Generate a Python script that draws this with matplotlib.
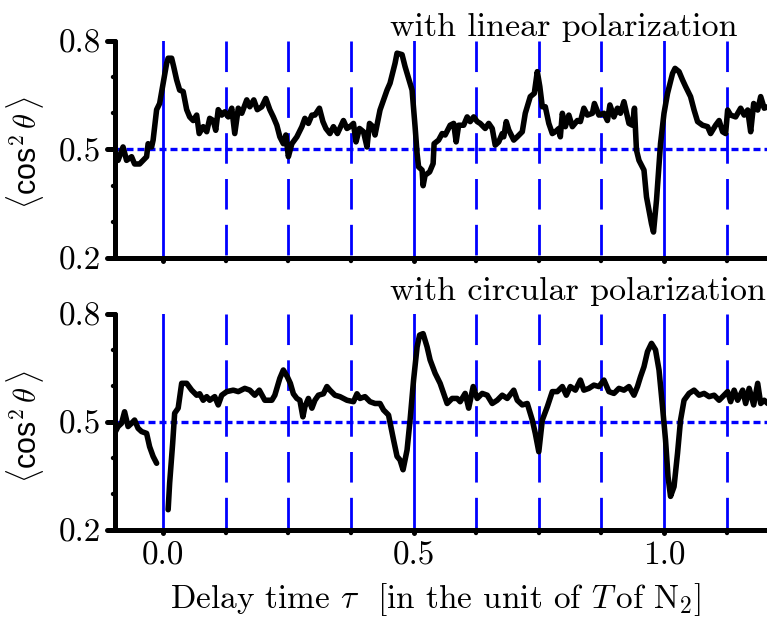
import matplotlib
matplotlib.use("Agg")
import matplotlib.pyplot as plt
from matplotlib.markers import MarkerStyle

plt.rcParams["mathtext.fontset"] = "cm"
plt.rcParams["axes.formatter.use_mathtext"] = True

# linear polarization trace
lin_t = [-0.097, -0.090, -0.080, -0.073, -0.063, -0.057, -0.047, -0.040, -0.033, -0.030,
         -0.023, -0.020, -0.013, -0.007, 0.000, 0.007, 0.010, 0.017, 0.021, 0.027,
         0.033, 0.040, 0.047, 0.053, 0.060, 0.067, 0.072, 0.080, 0.087, 0.093,
         0.100, 0.105, 0.110, 0.117, 0.123, 0.130, 0.137, 0.143, 0.150, 0.157,
         0.167, 0.173, 0.181, 0.188, 0.197, 0.205, 0.213, 0.220, 0.227, 0.233,
         0.240, 0.245, 0.250, 0.257, 0.267, 0.277, 0.283, 0.290, 0.297, 0.303,
         0.312, 0.319, 0.325, 0.333, 0.340, 0.348, 0.360, 0.367, 0.373, 0.380,
         0.385, 0.392, 0.400, 0.407, 0.412, 0.419, 0.423,
         0.433, 0.447, 0.453, 0.463, 0.467, 0.477, 0.483, 0.497, 0.503, 0.507,
         0.510, 0.517, 0.519, 0.523, 0.532, 0.539, 0.541, 0.550, 0.557, 0.563,
         0.573, 0.580, 0.585, 0.590, 0.600, 0.607, 0.613, 0.620, 0.627, 0.633,
         0.643, 0.650, 0.657, 0.663, 0.670, 0.677, 0.680, 0.685, 0.690, 0.700,
         0.707, 0.717, 0.723, 0.733, 0.741, 0.747, 0.752, 0.757, 0.763, 0.770,
         0.777, 0.783, 0.790, 0.793, 0.797, 0.803, 0.810, 0.817, 0.827, 0.833,
         0.840, 0.847, 0.857, 0.861, 0.870, 0.880, 0.887, 0.892, 0.900, 0.907,
         0.913, 0.920, 0.930, 0.937, 0.941, 0.945, 0.950, 0.960, 0.965, 0.970,
         0.975, 0.979, 0.985, 0.993, 1.000, 1.007, 1.017, 1.022, 1.030, 1.037,
         1.043, 1.053, 1.060, 1.067, 1.077, 1.087, 1.093, 1.103, 1.110, 1.117,
         1.123, 1.127, 1.133, 1.143, 1.153, 1.160, 1.167, 1.173, 1.179, 1.187,
         1.193, 1.200, 1.207]
lin_cos2 = [0.48, 0.47, 0.507, 0.47, 0.48, 0.46, 0.46, 0.47, 0.48, 0.516,
            0.507, 0.526, 0.61, 0.627, 0.683, 0.738, 0.752, 0.752, 0.729, 0.692,
            0.664, 0.66, 0.61, 0.59, 0.58, 0.595, 0.544, 0.563, 0.549, 0.586,
            0.58, 0.553, 0.61, 0.595, 0.604, 0.59, 0.614, 0.544, 0.614, 0.60,
            0.637, 0.618, 0.637, 0.61, 0.618, 0.641, 0.61, 0.59, 0.567, 0.535,
            0.516, 0.54, 0.48, 0.516, 0.535, 0.563, 0.586, 0.572, 0.595, 0.595,
            0.614, 0.577, 0.558, 0.544, 0.563, 0.544, 0.58, 0.558, 0.563, 0.572,
            0.521, 0.558, 0.549, 0.507, 0.572, 0.563, 0.54,
            0.609, 0.664, 0.683, 0.738, 0.766, 0.762, 0.729, 0.664, 0.563, 0.489,
            0.452, 0.443, 0.40, 0.429, 0.438, 0.461, 0.516, 0.526, 0.544, 0.54,
            0.567, 0.572, 0.521, 0.567, 0.567, 0.59, 0.577, 0.59, 0.577, 0.572,
            0.558, 0.572, 0.558, 0.512, 0.521, 0.544, 0.535, 0.577, 0.554, 0.526,
            0.535, 0.549, 0.60, 0.646, 0.655, 0.715, 0.674, 0.618, 0.618, 0.572,
            0.544, 0.549, 0.558, 0.535, 0.60, 0.563, 0.595, 0.563, 0.58, 0.577,
            0.614, 0.595, 0.60, 0.627, 0.595, 0.60, 0.58, 0.623, 0.59, 0.614,
            0.60, 0.632, 0.572, 0.567, 0.614, 0.498, 0.47, 0.443, 0.369, 0.332,
            0.295, 0.272, 0.36, 0.516, 0.60, 0.655, 0.71, 0.724, 0.715, 0.692,
            0.674, 0.646, 0.609, 0.577, 0.567, 0.563, 0.544, 0.567, 0.58, 0.549,
            0.544, 0.609, 0.595, 0.59, 0.614, 0.595, 0.609, 0.549, 0.627, 0.609,
            0.646, 0.614, 0.618]

# circular polarization trace (two pieces, gap near tau = 0)
circ_t1 = [-0.097, -0.090, -0.083, -0.077, -0.070, -0.063, -0.057, -0.050, -0.043, -0.033,
           -0.027, -0.020, -0.013]
circ_cos2_1 = [0.468, 0.487, 0.496, 0.528, 0.487, 0.496, 0.505, 0.482, 0.473, 0.468,
               0.431, 0.404, 0.385]
circ_t2 = [0.010, 0.013, 0.019, 0.023, 0.030, 0.037, 0.047, 0.057, 0.067, 0.073,
           0.080, 0.087, 0.093, 0.103, 0.110, 0.117, 0.127, 0.140, 0.150, 0.163,
           0.173, 0.183, 0.192, 0.203, 0.217, 0.223, 0.233, 0.240, 0.248, 0.254,
           0.260, 0.267, 0.273, 0.279, 0.283, 0.290, 0.297, 0.303, 0.310, 0.320,
           0.327, 0.333, 0.343, 0.353, 0.367, 0.380, 0.387, 0.393, 0.403, 0.413,
           0.423,
           0.433, 0.440, 0.450, 0.460, 0.467, 0.473, 0.479, 0.487, 0.493, 0.500,
           0.507, 0.512, 0.519, 0.527, 0.533, 0.543, 0.553, 0.560, 0.567, 0.577,
           0.587, 0.593, 0.603, 0.610, 0.619, 0.627, 0.637, 0.647, 0.657, 0.667,
           0.677, 0.687, 0.700, 0.707, 0.717, 0.727, 0.737, 0.743, 0.750, 0.757,
           0.767, 0.777, 0.787, 0.797, 0.805, 0.813, 0.823, 0.833, 0.840, 0.850,
           0.860, 0.870, 0.880, 0.890, 0.900, 0.910, 0.920, 0.930, 0.940, 0.947,
           0.953, 0.960, 0.967, 0.975, 0.983, 0.990, 0.997, 1.003, 1.008, 1.013,
           1.020, 1.027, 1.033, 1.040, 1.050, 1.060, 1.070, 1.080, 1.090, 1.100,
           1.110, 1.117, 1.127, 1.133, 1.140, 1.147, 1.157, 1.163, 1.170, 1.179,
           1.187, 1.193, 1.200, 1.207]
circ_cos2_2 = [0.256, 0.33, 0.44, 0.524, 0.538, 0.607, 0.607, 0.588, 0.574, 0.578,
               0.56, 0.57, 0.56, 0.57, 0.547, 0.574, 0.584, 0.588, 0.584, 0.593,
               0.588, 0.574, 0.588, 0.56, 0.56, 0.574, 0.621, 0.644, 0.625, 0.607,
               0.578, 0.565, 0.56, 0.514, 0.542, 0.565, 0.538, 0.56, 0.574, 0.578,
               0.598, 0.588, 0.574, 0.57, 0.56, 0.556, 0.578, 0.565, 0.57, 0.556,
               0.551,
               0.551, 0.533, 0.519, 0.45, 0.404, 0.394, 0.367, 0.422, 0.505, 0.616,
               0.708, 0.741, 0.745, 0.708, 0.672, 0.635, 0.607, 0.579, 0.551, 0.565,
               0.565, 0.556, 0.579, 0.538, 0.598, 0.565, 0.579, 0.574, 0.551, 0.56,
               0.574, 0.565, 0.588, 0.56, 0.547, 0.551, 0.505, 0.468, 0.417, 0.505,
               0.542, 0.584, 0.584, 0.598, 0.574, 0.598, 0.588, 0.616, 0.588, 0.593,
               0.602, 0.598, 0.616, 0.584, 0.579, 0.593, 0.588, 0.598, 0.574, 0.598,
               0.625, 0.653, 0.695, 0.718, 0.70, 0.644, 0.542, 0.45, 0.348, 0.293,
               0.32, 0.413, 0.505, 0.56, 0.579, 0.588, 0.574, 0.579, 0.57, 0.574,
               0.56, 0.57, 0.584, 0.556, 0.588, 0.56, 0.588, 0.551, 0.593, 0.547,
               0.607, 0.551, 0.56, 0.551]

full_periods = [0.0, 0.5, 1.0]
eighth_periods = [0.125, 0.25, 0.375, 0.625, 0.75, 0.875, 1.125]
isotropic = 0.5

BLUE = "#0000ff"
SERIF = "cmr10"

fig = plt.figure(figsize=(7.67, 6.19), dpi=100)
ax_top = fig.add_axes([0.150, 0.583, 0.850, 0.351])
ax_bot = fig.add_axes([0.150, 0.144, 0.850, 0.349])


def round_ticks(ax):
    lines = (ax.xaxis.get_ticklines() + ax.xaxis.get_ticklines(minor=True)
             + ax.yaxis.get_ticklines() + ax.yaxis.get_ticklines(minor=True))
    for ln in lines:
        ln.set_marker(MarkerStyle(ln.get_marker(), capstyle="round"))


def setup(ax, title, show_xlabels):
    xmin, xmax = -0.096, 1.2056
    ax.set_xlim(xmin, xmax)
    ax.set_ylim(0.2, 0.8)
    for s in ("top", "right"):
        ax.spines[s].set_visible(False)
    for s in ("left", "bottom"):
        ax.spines[s].set_linewidth(3.6)
        ax.spines[s].set_capstyle("round")

    for x in full_periods:
        ax.plot([x, x], [0.8, 0.2], color=BLUE, lw=2, zorder=1)
    for x in eighth_periods:
        ax.plot([x, x], [0.8, 0.2], color=BLUE, lw=2, dashes=(11, 5.5), zorder=1)
    ax.plot([xmin, xmax], [isotropic, isotropic], color=BLUE, lw=2.4,
            dashes=(2.1, 1.2), zorder=2)

    ax.set_yticks([0.2, 0.5, 0.8])
    ax.set_yticklabels(["0.2", "0.5", "0.8"])
    ax.set_yticks([0.3, 0.4, 0.6, 0.7], minor=True)
    ax.set_xticks(full_periods)
    ax.set_xticks(eighth_periods, minor=True)
    ax.set_xticklabels(["0.0", "0.5", "1.0"] if show_xlabels else [])
    ax.tick_params(axis="y", which="major", length=6, width=3.6, pad=4,
                   labelsize=24, labelfontfamily=SERIF)
    ax.tick_params(axis="y", which="minor", length=1.2, width=3.2)
    ax.tick_params(axis="x", which="major", length=2.5, width=3.6, pad=6,
                   labelsize=24, labelfontfamily=SERIF)
    ax.tick_params(axis="x", which="minor", length=2.0, width=3.2)
    round_ticks(ax)

    ax.text(0.422, 1.023 if not show_xlabels else 1.063, title,
            transform=ax.transAxes, ha="left", va="baseline",
            fontsize=24.5, family=SERIF)


setup(ax_top, "with linear polarization", False)
setup(ax_bot, "with circular polarization", True)

ax_top.plot(lin_t, lin_cos2, color="black", lw=4, solid_joinstyle="round",
            solid_capstyle="round", zorder=3)
ax_bot.plot(circ_t1, circ_cos2_1, color="black", lw=4, solid_joinstyle="round",
            solid_capstyle="round", zorder=3)
ax_bot.plot(circ_t2, circ_cos2_2, color="black", lw=4, solid_joinstyle="round",
            solid_capstyle="round", zorder=3)

ylab = r"$\langle$cos$^2\,\theta\,\rangle$"
fig.text(0.033, 0.753, ylab, rotation=90, ha="center", va="center",
         fontsize=22, family="Liberation Sans")
fig.text(0.033, 0.310, ylab, rotation=90, ha="center", va="center",
         fontsize=22, family="Liberation Sans")

fig.text(0.568, 0.018,
         r"Delay time $\tau$  [in the unit of $T\,$of N$_2$]",
         ha="center", va="baseline", fontsize=24, family=SERIF)

fig.savefig("out.png", dpi=100)
